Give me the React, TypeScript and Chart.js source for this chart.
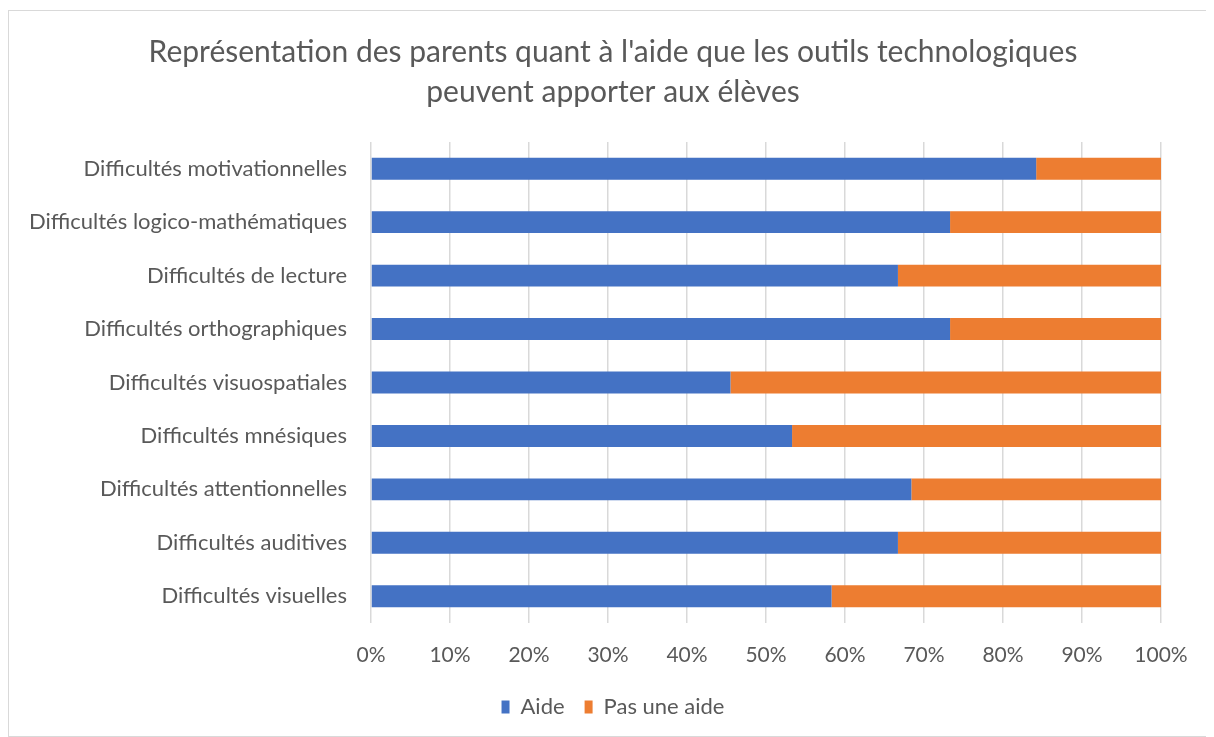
import React, { useEffect, useRef } from "react";
import { Chart, registerables } from "chart.js";

Chart.register(...registerables);

const categories = [
  "Difficultés motivationnelles",
  "Difficultés logico-mathématiques",
  "Difficultés de lecture",
  "Difficultés orthographiques",
  "Difficultés visuospatiales",
  "Difficultés mnésiques",
  "Difficultés attentionnelles",
  "Difficultés auditives",
  "Difficultés visuelles",
];

const aide = [84.2, 73.3, 66.7, 73.3, 45.5, 53.3, 68.4, 66.7, 58.3];
const pasUneAide = [15.8, 26.7, 33.3, 26.7, 54.5, 46.7, 31.6, 33.3, 41.7];

const titleLines = [
  "Représentation des parents quant à l'aide que les outils technologiques",
  "peuvent apporter aux élèves",
];

const FONT = "Lato, 'Open Sans', sans-serif";

export default function App() {
  const ref = useRef<HTMLCanvasElement | null>(null);

  useEffect(() => {
    if (!ref.current) return;
    const chart = new Chart(ref.current, {
      type: "bar",
      data: {
        labels: categories,
        datasets: [
          {
            label: "Aide",
            data: aide,
            backgroundColor: "#4472C4",
            borderWidth: 0,
          },
          {
            label: "Pas une aide",
            data: pasUneAide,
            backgroundColor: "#ED7D31",
            borderWidth: 0,
          },
        ],
      },
      options: {
        indexAxis: "y",
        animation: false,
        responsive: false,
        maintainAspectRatio: false,
        layout: { padding: { top: 21, right: 0, bottom: 8, left: 8 } },
        datasets: {
          bar: { categoryPercentage: 0.41, barPercentage: 1 },
        },
        plugins: {
          title: {
            display: true,
            text: titleLines,
            color: "#595959",
            font: { family: FONT, size: 30, weight: "normal", lineHeight: 1.333 },
            padding: { top: 0, bottom: 30 },
          },
          legend: {
            position: "bottom",
            labels: {
              color: "#595959",
              font: { family: FONT, size: 22 },
              boxWidth: 8,
              boxHeight: 13,
              padding: 20,
            },
          },
          tooltip: { enabled: false },
        },
        scales: {
          x: {
            stacked: true,
            min: 0,
            max: 100,
            border: { display: false },
            grid: { color: "#D9D9D9", lineWidth: 1.5, drawTicks: false },
            ticks: {
              stepSize: 10,
              color: "#595959",
              padding: 20,
              font: { family: FONT, size: 21 },
              callback: (v: any) => v + "%",
            },
            afterFit: (s: any) => {
              s.height = 53;
              s.paddingRight = 48;
            },
          },
          y: {
            stacked: true,
            border: { display: false },
            grid: { display: false },
            ticks: {
              color: "#595959",
              padding: 16,
              font: { family: FONT, size: 22 },
            },
            afterFit: (s: any) => {
              s.width = 354;
            },
          },
        },
      },
    });
    return () => chart.destroy();
  }, []);

  return (
    <div
      style={{
        marginTop: 2,
        width: 1200,
        height: 725,
        border: "1px solid #D9D9D9",
        background: "#fff",
      }}
    >
      <canvas ref={ref} width={1200} height={725} style={{ display: "block" }} />
    </div>
  );
}
